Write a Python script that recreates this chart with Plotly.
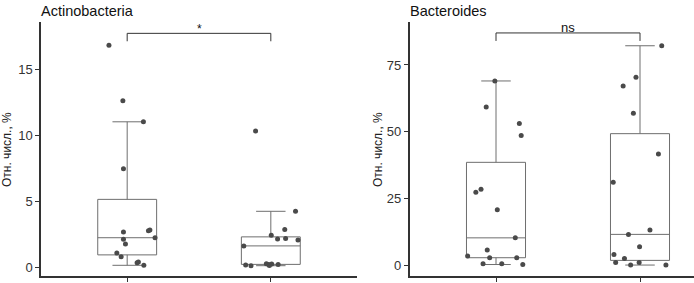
import numpy as np
import plotly.graph_objects as go

# ---- data ----
panel_titles = ["Actinobacteria", "Bacteroides"]
y_title = "Отн. числ., %"
groups = [1, 2]

actino_g1 = [16.8, 12.6, 11.0, 7.45, 2.65, 2.1, 1.74, 2.75, 2.8, 2.22, 1.06, 0.78, 0.33, 0.38, 0.13]
actino_g1_jit = [-0.127, -0.03, 0.113, -0.026, -0.026, -0.026, -0.012, 0.148, 0.158, 0.194, -0.072, -0.042, 0.069, 0.078, 0.116]
actino_g2 = [10.3, 4.22, 2.85, 2.4, 2.12, 2.17, 2.05, 1.6, 0.15, 0.1, 0.25, 0.2, 0.22, 0.2, 0.12]
actino_g2_jit = [-0.106, 0.172, 0.097, 0.003, 0.047, 0.103, 0.189, -0.188, -0.175, -0.138, -0.031, -0.014, 0.006, 0.051, -0.01]

bact_g1 = [69.0, 59.2, 53.1, 48.6, 27.3, 28.4, 20.7, 10.2, 5.6, 3.4, 2.75, 2.75, 0.5, 0.5, 0.2]
bact_g1_jit = [-0.008, -0.068, 0.162, 0.175, -0.14, -0.104, 0.009, 0.134, -0.061, -0.197, -0.044, 0.144, -0.09, 0.04, 0.186]
bact_g2 = [82.2, 70.4, 67.1, 56.9, 41.6, 31.0, 13.1, 11.5, 6.9, 4.0, 2.5, 1.0, 1.0, 0.0, 0.0]
bact_g2_jit = [0.151, -0.028, -0.117, -0.046, 0.128, -0.186, 0.069, -0.08, -0.003, -0.181, -0.108, -0.169, -0.006, -0.065, 0.18]

sig_labels = ["*", "ns"]
bracket_top = [17.7, 87.0]
bracket_foot = [17.1, 84.0]
label_y = [18.0, 89.0]

y_ranges = [[-0.68, 18.56], [-4.1, 91.1]]
y_ticks = [[0, 5, 10, 15], [0, 25, 50, 75]]

panels = [
    [(actino_g1, actino_g1_jit), (actino_g2, actino_g2_jit)],
    [(bact_g1, bact_g1_jit), (bact_g2, bact_g2_jit)],
]

BOX_COL = "#6e6e6e"
PT_COL = "#4a4a4a"
AX_COL = "#333333"


def box_stats(v):
    v = np.asarray(v, dtype=float)
    q1, med, q3 = np.percentile(v, [25, 50, 75])
    iqr = q3 - q1
    up = v[v <= q3 + 1.5 * iqr].max()
    lo = v[v >= q1 - 1.5 * iqr].min()
    return q1, med, q3, lo, up


fig = go.Figure()
W, H = 694, 283
x_domains = [[41 / W, 357 / W], [409.6 / W, 1.0]]
x_ranges = [[0.4, 2.6], [0.4, 2.375]]
y_domain = [7 / H, 261 / H]

for p, pdata in enumerate(panels):
    xa = "x" if p == 0 else "x2"
    ya = "y" if p == 0 else "y2"
    for g, (vals, jit) in zip(groups, pdata):
        q1, med, q3, lo, up = box_stats(vals)
        fig.add_trace(go.Box(
            x=[g], q1=[q1], median=[med], q3=[q3], lowerfence=[lo], upperfence=[up],
            width=0.41, whiskerwidth=0.5, boxpoints=False,
            line=dict(color=BOX_COL, width=1), fillcolor="rgba(0,0,0,0)",
            xaxis=xa, yaxis=ya, showlegend=False, hoverinfo="skip",
        ))
        fig.add_trace(go.Scatter(
            x=[g + j for j in jit], y=vals, mode="markers",
            marker=dict(size=5, color=PT_COL), xaxis=xa, yaxis=ya,
            showlegend=False, hoverinfo="skip",
        ))
    # significance bracket
    fig.add_shape(type="path", xref=xa, yref=ya,
                  path=f"M {groups[0]},{bracket_foot[p]} L {groups[0]},{bracket_top[p]} "
                       f"L {groups[1]},{bracket_top[p]} L {groups[1]},{bracket_foot[p]}",
                  line=dict(color="#333333", width=1))
    fig.add_annotation(x=(groups[0] + groups[1]) / 2, y=label_y[p], xref=xa, yref=ya,
                       text=sig_labels[p], showarrow=False,
                       font=dict(size=13 if p == 1 else 12, color="#111111"))
    # panel title
    fig.add_annotation(x=x_domains[p][0] - 2 / W, y=1 - 1 / H, xref="paper", yref="paper",
                       xanchor="left", yanchor="top", text=panel_titles[p], showarrow=False,
                       font=dict(size=14.5, color="#111111"))
    # y title
    fig.add_annotation(x=(7 if p == 0 else 378) / W, y=1 - 150 / H, xref="paper", yref="paper",
                       xanchor="center", yanchor="middle", textangle=-90, text=y_title,
                       showarrow=False, font=dict(size=12, color="#222222"))

axis_common = dict(showline=True, linecolor=AX_COL, linewidth=1.5, ticks="outside",
                   ticklen=4, tickcolor=AX_COL, showgrid=False, zeroline=False,
                   automargin=False)

fig.update_layout(
    width=W, height=H, margin=dict(l=0, r=0, t=0, b=0),
    paper_bgcolor="white", plot_bgcolor="white",
    font=dict(family="Liberation Sans, Arial, sans-serif", size=12, color="#333333"),
    xaxis=dict(domain=x_domains[0], range=x_ranges[0], tickvals=groups, ticktext=["", ""],
               anchor="y", **axis_common),
    yaxis=dict(domain=y_domain, range=y_ranges[0], tickvals=y_ticks[0], anchor="x",
               tickfont=dict(size=13, color="#333333"), **axis_common),
    xaxis2=dict(domain=x_domains[1], range=x_ranges[1], tickvals=groups, ticktext=["", ""],
                anchor="y2", **axis_common),
    yaxis2=dict(domain=y_domain, range=y_ranges[1], tickvals=y_ticks[1], anchor="x2",
                tickfont=dict(size=13, color="#333333"), **axis_common),
)

fig.write_html("out.html", config={"displayModeBar": False},
               post_script="document.body.style.margin='0px';")
